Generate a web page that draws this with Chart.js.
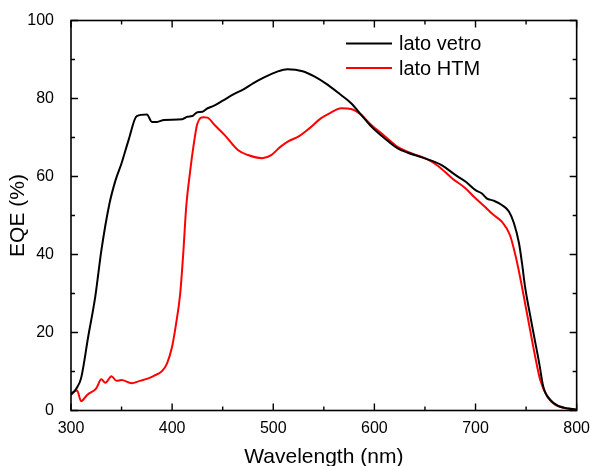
<!DOCTYPE html>
<html>
<head>
<meta charset="utf-8">
<script src="https://cdn.jsdelivr.net/npm/chart.js@4/dist/chart.umd.min.js"></script>
<style>
  html, body { margin: 0; padding: 0; background: #fff; }
  #wrap { width: 590px; height: 466px; }
</style>
</head>
<body>
<div id="wrap"><canvas id="chart" width="590" height="466"></canvas></div>
<script>
const seriesNames = ['lato vetro', 'lato HTM'];
const seriesColors = ['#000000', '#ff0000'];

const vetroNm = [300, 305, 310, 317, 324, 330, 338, 344, 350, 357, 365, 375, 380, 385, 392, 410, 415, 420, 425, 430,
  435, 441, 451, 461, 471, 480, 490, 504, 514, 529, 541, 554, 567, 577, 587, 597, 610, 623, 633, 647,
  666, 680, 690, 700, 706, 711, 718, 726, 733, 738, 743, 746, 749, 753, 758, 763, 767, 774, 782, 792, 800];
const vetroEqe = [4.0, 5.5, 8.3, 18.9, 29.2, 41.0, 53.0, 59.0, 63.4, 69.4, 75.5, 75.9, 74.0, 74.0, 74.5, 74.7, 75.3, 75.5, 76.5, 76.6,
  77.5, 78.1, 79.6, 81.1, 82.4, 83.9, 85.3, 86.9, 87.5, 87.0, 85.6, 83.5, 80.9, 78.8, 75.8, 72.8, 69.8, 67.2, 66.1, 64.9,
  63.0, 60.4, 58.7, 56.5, 55.7, 54.4, 53.8, 52.7, 51.0, 48.0, 42.9, 37.7, 31.7, 25.8, 18.9, 12.1, 6.1, 2.7, 1.15, 0.5, 0.2];

const htmNm = [300, 306, 310, 316, 325, 330, 334, 340, 345, 350, 360, 368, 375, 382, 390, 395, 400, 404, 408, 411,
  414, 418, 421, 425, 431, 435, 442, 452, 465, 475, 489, 498, 507, 514, 526, 536, 547, 557, 567, 577,
  587, 597, 610, 623, 637, 650, 663, 677, 690, 700, 709, 718, 726, 734, 739, 744, 749, 754, 759, 764,
  771, 779, 789, 800];
const htmEqe = [4.4, 5.1, 2.4, 4.0, 5.7, 8.0, 7.1, 8.8, 7.6, 7.8, 7.0, 7.6, 8.1, 8.9, 10.1, 12.1, 16.4, 22.4, 30.0, 40.3,
  52.5, 61.7, 67.6, 73.6, 75.2, 75.1, 73.2, 70.6, 66.8, 65.5, 64.7, 65.5, 67.6, 68.9, 70.4, 72.4, 74.9, 76.4, 77.5, 77.3,
  75.8, 73.2, 70.4, 67.6, 65.9, 64.7, 62.7, 59.5, 57.0, 54.4, 52.3, 50.1, 48.4, 45.0, 40.3, 34.3, 27.5, 20.6, 13.8, 7.8,
  3.5, 1.4, 0.6, 0.2];

const xMajor = [300, 400, 500, 600, 700, 800];
const xMinor = [350, 450, 550, 650, 750];
const yMajor = [0, 20, 40, 60, 80, 100];
const yMinor = [10, 30, 50, 70, 90];

const FONT = "'Liberation Sans', Arial, sans-serif";

const toPoints = (xs, ys) => xs.map((x, i) => ({x: x, y: ys[i]}));

// frame, inward ticks on all four sides, and the legend inside the plot
const framePlugin = {
  id: 'frame',
  afterDatasetsDraw(chart) {
    const {ctx, chartArea: a, scales: {x, y}} = chart;
    ctx.save();
    ctx.strokeStyle = '#000';
    ctx.lineWidth = 1.6;
    ctx.strokeRect(a.left, a.top, a.right - a.left, a.bottom - a.top);

    ctx.lineWidth = 1.4;
    ctx.beginPath();
    const xt = (v, len) => {
      const px = x.getPixelForValue(v);
      ctx.moveTo(px, a.bottom); ctx.lineTo(px, a.bottom - len);
      ctx.moveTo(px, a.top); ctx.lineTo(px, a.top + len);
    };
    const yt = (v, len) => {
      const py = y.getPixelForValue(v);
      ctx.moveTo(a.left, py); ctx.lineTo(a.left + len, py);
      ctx.moveTo(a.right, py); ctx.lineTo(a.right - len, py);
    };
    xMajor.forEach(v => xt(v, 7));
    xMinor.forEach(v => xt(v, 4));
    yMajor.forEach(v => yt(v, 7));
    yMinor.forEach(v => yt(v, 4));
    ctx.stroke();

    // legend
    ctx.font = '20px ' + FONT;
    ctx.textBaseline = 'middle';
    ctx.textAlign = 'left';
    chart.data.datasets.forEach((ds, i) => {
      const ly = a.top + 23 + i * 24.5;
      ctx.strokeStyle = ds.borderColor;
      ctx.lineWidth = 2;
      ctx.beginPath();
      ctx.moveTo(346, ly);
      ctx.lineTo(392, ly);
      ctx.stroke();
      ctx.fillStyle = '#000';
      ctx.fillText(ds.label, 399, ly + 1);
    });
    ctx.restore();
  }
};

new Chart(document.getElementById('chart'), {
  type: 'line',
  data: {
    datasets: [
      {
        label: seriesNames[0],
        data: toPoints(vetroNm, vetroEqe),
        borderColor: seriesColors[0],
        borderWidth: 2,
        pointRadius: 0,
        cubicInterpolationMode: 'monotone',
        fill: false
      },
      {
        label: seriesNames[1],
        data: toPoints(htmNm, htmEqe),
        borderColor: seriesColors[1],
        borderWidth: 2,
        pointRadius: 0,
        cubicInterpolationMode: 'monotone',
        fill: false
      }
    ]
  },
  options: {
    responsive: false,
    animation: false,
    layout: {padding: {top: 20.5, right: 12.5, left: 0, bottom: 0}},
    plugins: {
      legend: {display: false},
      tooltip: {enabled: false}
    },
    scales: {
      x: {
        type: 'linear',
        min: 300,
        max: 800,
        afterFit: s => { s.height = 55.5; },
        grid: {display: false},
        border: {display: false},
        ticks: {
          stepSize: 100,
          padding: 0,
          color: '#000',
          font: {family: FONT, size: 16},
          maxRotation: 0
        },
        title: {
          display: true,
          text: 'Wavelength (nm)',
          color: '#000',
          font: {family: FONT, size: 21},
          padding: {top: 0, bottom: -4}
        }
      },
      y: {
        min: 0,
        max: 100,
        afterFit: s => { s.width = 71; },
        grid: {display: false},
        border: {display: false},
        ticks: {
          stepSize: 20,
          padding: 9,
          color: '#000',
          font: {family: FONT, size: 16}
        },
        title: {
          display: true,
          text: 'EQE (%)',
          color: '#000',
          font: {family: FONT, size: 21},
          padding: {top: 6, bottom: 0}
        }
      }
    }
  },
  plugins: [framePlugin]
});
</script>
</body>
</html>
